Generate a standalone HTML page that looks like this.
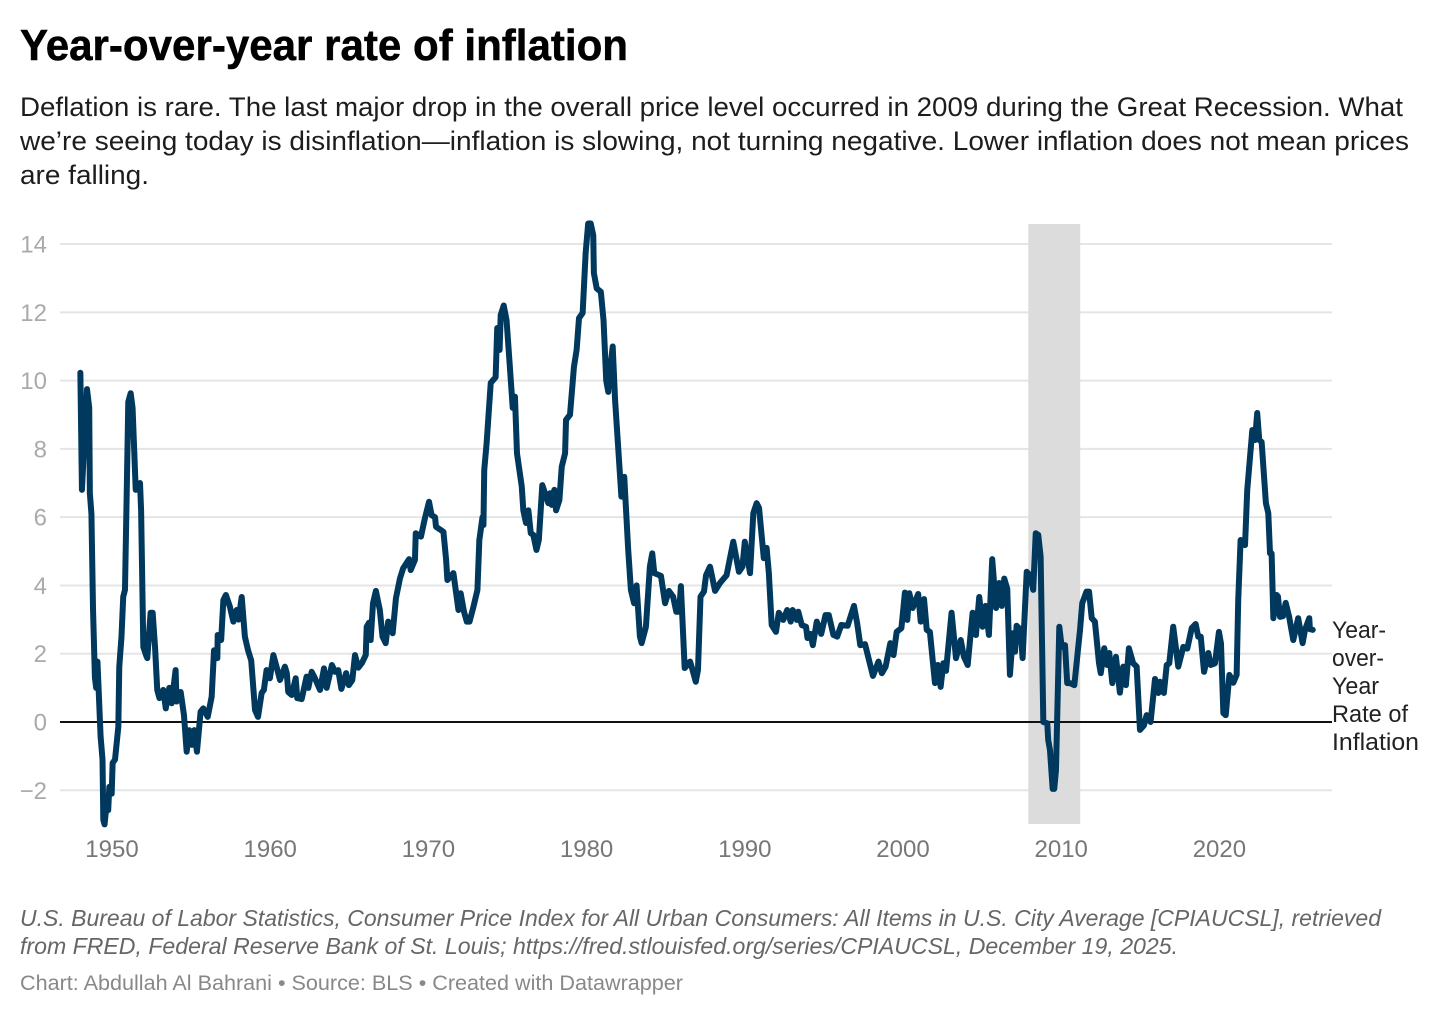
<!DOCTYPE html>
<html lang="en">
<head>
<meta charset="utf-8">
<title>Year-over-year rate of inflation</title>
<style>
html,body{margin:0;padding:0;background:#fff;}
svg{display:block;font-family:"Liberation Sans",Arial,sans-serif;}
</style>
</head>
<body>
<svg id="chart" xmlns="http://www.w3.org/2000/svg" width="1440" height="1016" viewBox="0 0 1440 1016">
  <rect x="0" y="0" width="1440" height="1016" fill="#ffffff"/>
  <text x="20" y="60" font-size="44" font-weight="700" fill="#000000" stroke="#000000" stroke-width="0.5" textLength="608" lengthAdjust="spacingAndGlyphs">Year-over-year rate of inflation</text>
  <text x="20" y="116" font-size="26.5" fill="#1d1d1d" textLength="1383" lengthAdjust="spacingAndGlyphs">Deflation is rare. The last major drop in the overall price level occurred in 2009 during the Great Recession. What</text>
  <text x="20" y="150" font-size="26.5" fill="#1d1d1d" textLength="1389" lengthAdjust="spacingAndGlyphs">we’re seeing today is disinflation—inflation is slowing, not turning negative. Lower inflation does not mean prices</text>
  <text x="20" y="184" font-size="26.5" fill="#1d1d1d" textLength="129" lengthAdjust="spacingAndGlyphs">are falling.</text>
  <g id="grid"></g>
  <g id="yaxis"></g>
  <g id="recession"></g>
  <g id="zero"></g>
  <g id="xaxis"></g>
  <g id="series"></g>
  <g font-size="24" fill="#222222">
    <text x="1332" y="638" textLength="54" lengthAdjust="spacingAndGlyphs">Year-</text>
    <text x="1332" y="666" textLength="52" lengthAdjust="spacingAndGlyphs">over-</text>
    <text x="1332" y="694" textLength="47" lengthAdjust="spacingAndGlyphs">Year</text>
    <text x="1332" y="722" textLength="76" lengthAdjust="spacingAndGlyphs">Rate of</text>
    <text x="1332" y="750" textLength="87" lengthAdjust="spacingAndGlyphs">Inflation</text>
  </g>
  <text x="20" y="926" font-size="23" font-style="italic" fill="#666666" textLength="1361" lengthAdjust="spacingAndGlyphs">U.S. Bureau of Labor Statistics, Consumer Price Index for All Urban Consumers: All Items in U.S. City Average [CPIAUCSL], retrieved</text>
  <text x="20" y="954" font-size="23" font-style="italic" fill="#666666" textLength="1158" lengthAdjust="spacingAndGlyphs">from FRED, Federal Reserve Bank of St. Louis; https://fred.stlouisfed.org/series/CPIAUCSL, December 19, 2025.</text>
  <text x="20" y="990" font-size="21.5" fill="#888888" textLength="663" lengthAdjust="spacingAndGlyphs">Chart: Abdullah Al Bahrani • Source: BLS • Created with Datawrapper</text>
</svg>
<script>
const yTicks = [-2, 2, 4, 6, 8, 10, 12, 14];
const yTickLabels = ["−2", "2", "4", "6", "8", "10", "12", "14"];
const zeroTick = 0;
const xTicks = [1950, 1960, 1970, 1980, 1990, 2000, 2010, 2020];
const recessionSpan = [2007.92, 2011.2];
const dates = [
1948.0,1948.1,1948.42,1948.56,1948.6,1948.7,1948.8,1948.92,1949.0,1949.08,
1949.28,1949.4,1949.45,1949.53,1949.66,1949.76,1949.83,1949.98,1950.04,1950.19,
1950.4,1950.46,1950.6,1950.71,1950.82,1950.93,1951.03,1951.18,1951.3,1951.5,
1951.77,1951.84,1951.98,1952.15,1952.23,1952.44,1952.57,1952.72,1952.86,1953.0,
1953.24,1953.4,1953.62,1953.77,1954.02,1954.08,1954.34,1954.55,1954.72,1954.88,
1955.05,1955.2,1955.37,1955.6,1955.77,1956.05,1956.3,1956.45,1956.66,1956.68,
1956.9,1957.04,1957.2,1957.45,1957.67,1957.88,1958.0,1958.2,1958.4,1958.6,
1958.8,1959.04,1959.23,1959.46,1959.6,1959.77,1959.98,1960.2,1960.4,1960.62,
1960.93,1961.05,1961.14,1961.36,1961.61,1961.71,1961.99,1962.3,1962.41,1962.62,
1962.83,1963.15,1963.4,1963.57,1963.9,1964.1,1964.3,1964.5,1964.8,1964.97,
1965.19,1965.36,1965.57,1965.8,1966.04,1966.1,1966.25,1966.35,1966.5,1966.68,
1966.93,1967.1,1967.3,1967.46,1967.74,1967.95,1968.2,1968.4,1968.78,1968.88,
1969.15,1969.2,1969.53,1969.78,1970.04,1970.2,1970.42,1970.48,1970.95,1971.12,
1971.2,1971.58,1971.9,1972.04,1972.25,1972.43,1972.6,1972.85,1973.1,1973.22,
1973.42,1973.48,1973.53,1973.68,1973.94,1974.25,1974.35,1974.5,1974.57,1974.76,
1974.94,1975.15,1975.33,1975.47,1975.6,1975.9,1976.0,1976.17,1976.32,1976.47,
1976.63,1976.83,1976.98,1977.2,1977.58,1977.69,1977.79,1977.96,1978.07,1978.28,
1978.43,1978.64,1978.7,1978.95,1979.2,1979.37,1979.52,1979.75,1979.94,1980.1,
1980.26,1980.42,1980.46,1980.64,1980.9,1981.07,1981.24,1981.37,1981.43,1981.65,
1981.8,1982.2,1982.38,1982.63,1982.8,1983.0,1983.16,1983.37,1983.48,1983.75,
1984.0,1984.15,1984.28,1984.7,1984.96,1985.2,1985.47,1985.67,1985.85,1985.96,
1986.2,1986.54,1986.65,1986.9,1987.04,1987.2,1987.42,1987.55,1987.8,1988.12,
1988.43,1988.85,1989.27,1989.63,1989.85,1990.0,1990.33,1990.54,1990.75,1990.9,
1991.2,1991.38,1991.52,1991.7,1991.97,1992.15,1992.43,1992.68,1992.9,1993.03,
1993.28,1993.38,1993.6,1993.87,1993.96,1994.15,1994.3,1994.55,1994.83,1995.1,
1995.31,1995.6,1995.84,1996.1,1996.5,1996.9,1997.1,1997.3,1997.6,1997.9,
1998.1,1998.45,1998.66,1998.9,1999.2,1999.4,1999.6,1999.9,2000.12,2000.27,
2000.4,2000.61,2000.96,2001.12,2001.33,2001.5,2001.7,2002.02,2002.19,2002.38,
2002.55,2002.72,2003.07,2003.35,2003.65,2003.85,2004.09,2004.4,2004.61,2004.82,
2005.03,2005.22,2005.43,2005.64,2005.88,2006.08,2006.24,2006.4,2006.59,2006.76,
2006.95,2007.08,2007.18,2007.43,2007.56,2007.82,2008.02,2008.23,2008.39,2008.55,
2008.7,2008.87,2009.12,2009.18,2009.29,2009.46,2009.56,2009.67,2009.88,2010.03,
2010.24,2010.38,2010.55,2010.83,2011.19,2011.33,2011.6,2011.76,2011.93,2012.13,
2012.39,2012.5,2012.72,2012.91,2013.04,2013.23,2013.46,2013.71,2013.92,2014.09,
2014.28,2014.55,2014.77,2014.98,2015.23,2015.4,2015.65,2015.93,2016.14,2016.24,
2016.49,2016.67,2016.83,2017.08,2017.4,2017.72,2017.97,2018.25,2018.5,2018.66,
2018.82,2019.03,2019.3,2019.45,2019.72,2019.97,2020.1,2020.25,2020.4,2020.63,
2020.88,2021.09,2021.19,2021.34,2021.62,2021.76,2022.08,2022.25,2022.39,2022.52,
2022.67,2022.94,2023.09,2023.2,2023.3,2023.41,2023.62,2023.7,2023.83,2024.02,
2024.19,2024.4,2024.67,2024.98,2025.26,2025.41,2025.68,2025.72,2025.9
];
const values = [
10.23,6.8,9.75,9.2,6.7,6.1,3.3,1.3,1.0,1.77,
-0.43,-1.1,-2.87,-3.0,-2.4,-2.58,-1.9,-2.1,-1.2,-1.1,
-0.14,1.62,2.5,3.67,3.87,6.7,9.38,9.63,9.2,6.8,
7.0,6.2,2.2,1.96,1.87,3.2,3.2,2.2,0.94,0.7,
0.94,0.4,1.0,0.55,1.52,0.6,0.88,0.2,-0.87,-0.24,
-0.67,-0.24,-0.87,0.3,0.4,0.15,0.74,2.1,1.87,2.55,
2.4,3.57,3.72,3.38,2.94,3.28,3.0,3.66,2.5,2.1,
1.8,0.35,0.15,0.85,0.94,1.52,1.28,1.96,1.62,1.23,
1.62,1.43,0.88,0.79,1.28,0.7,0.67,1.33,1.0,1.47,
1.28,0.94,1.57,1.0,1.67,1.47,1.52,0.97,1.43,1.08,
1.23,1.96,1.59,1.73,1.96,2.79,2.91,2.4,3.48,3.84,
3.28,2.5,2.31,2.94,2.6,3.63,4.2,4.5,4.77,4.45,
4.75,5.53,5.43,5.97,6.45,6.06,6.0,5.72,5.57,4.75,
4.16,4.36,3.28,3.77,3.23,2.94,2.94,3.38,3.87,5.33,
6.0,5.77,7.38,8.17,9.93,10.1,11.54,10.9,11.92,12.2,
11.77,10.4,9.2,9.53,7.87,6.9,6.2,5.83,6.2,5.53,
5.48,5.04,5.33,6.94,6.41,6.7,6.36,6.8,6.2,6.5,
7.48,7.87,8.85,9.0,10.4,10.9,11.83,11.98,13.74,14.6,
14.6,14.26,13.15,12.7,12.6,11.77,10.0,9.67,10.1,11.0,
9.43,6.6,7.18,5.04,3.87,3.48,4.0,2.5,2.31,2.79,
4.55,4.94,4.36,4.28,3.48,3.84,3.67,3.23,3.23,3.98,
1.58,1.77,1.6,1.18,1.52,3.67,3.82,4.3,4.55,3.84,
4.07,4.3,5.28,4.4,4.55,5.28,4.36,6.12,6.41,6.27,
4.8,5.1,4.36,2.84,2.64,3.2,2.99,3.28,2.94,3.28,
2.99,3.23,2.84,2.79,2.46,2.58,2.25,2.94,2.58,3.13,
3.13,2.55,2.5,2.84,2.82,3.4,2.9,2.25,2.28,1.72,
1.35,1.77,1.43,1.62,2.31,1.96,2.64,2.75,3.79,2.99,
3.77,3.34,3.75,2.94,3.6,2.7,2.64,1.14,1.67,1.03,
1.72,1.5,3.2,1.87,2.4,1.91,1.67,3.2,2.55,3.66,
2.79,3.4,2.55,4.77,3.34,4.07,3.4,4.2,3.9,1.38,
2.6,2.06,2.82,2.7,1.87,4.4,4.3,3.87,5.53,5.48,
4.84,0.0,-0.04,-0.53,-0.82,-1.96,-1.96,-1.41,2.79,2.2,
2.25,1.14,1.14,1.08,2.7,3.48,3.82,3.82,3.04,2.94,
1.72,1.43,2.16,1.67,2.02,1.14,1.91,0.86,1.62,1.08,
2.16,1.72,1.62,-0.23,-0.1,0.2,0.0,1.26,0.85,1.18,
0.85,1.67,1.72,2.79,1.62,2.2,2.15,2.75,2.87,2.5,
2.5,1.47,2.02,1.67,1.72,2.64,2.3,0.26,0.2,1.38,
1.15,1.38,3.57,5.33,5.18,6.8,8.55,8.26,9.05,8.26,
8.2,6.41,6.12,4.94,4.94,3.04,3.72,3.68,3.08,3.1,
3.49,3.1,2.4,3.04,2.31,2.7,3.04,2.72,2.7
];

const NS = 'http://www.w3.org/2000/svg';
function xScale(year) { return 112 + (year - 1950) * 15.82; }
function yScale(v) { return 722 - v * 34.14; }
function make(tag, attrs, parentId) {
  const el = document.createElementNS(NS, tag);
  for (const k in attrs) el.setAttribute(k, attrs[k]);
  document.getElementById(parentId).appendChild(el);
  return el;
}
yTicks.forEach(function (t, i) {
  const line = make('line', {x1: 60, x2: 1332, y1: yScale(t), y2: yScale(t), stroke: '#e5e5e5', 'stroke-width': 2}, 'grid');
  
  
  const label = make('text', {x: 47, y: yScale(t) + 8.5, 'text-anchor': 'end', 'font-size': 24, fill: '#aaaaaa'}, 'yaxis');
  
  
  label.textContent = yTickLabels[i];
});
const zeroLabel = make('text', {x: 47, y: yScale(zeroTick) + 8.5, 'text-anchor': 'end', 'font-size': 24, fill: '#aaaaaa'}, 'yaxis');


zeroLabel.textContent = String(zeroTick);
const band = make('rect', {x: xScale(recessionSpan[0]), y: 224, width: xScale(recessionSpan[1]) - xScale(recessionSpan[0]), height: 600, fill: '#dcdcdc'}, 'recession');


const zeroLine = make('line', {x1: 60, x2: 1332, y1: yScale(zeroTick), y2: yScale(zeroTick), stroke: '#111111', 'stroke-width': 2}, 'zero');


xTicks.forEach(function (t) {
  const label = make('text', {x: xScale(t), y: 857, 'text-anchor': 'middle', 'font-size': 24, fill: '#777777'}, 'xaxis');
  
  
  label.textContent = String(t);
});
const pts = dates.map(function (d, i) { return xScale(d).toFixed(2) + ',' + yScale(values[i]).toFixed(2); }).join(' ');
const seriesLine = make('polyline', {points: pts, fill: 'none', stroke: '#00395d', 'stroke-width': 6, 'stroke-linejoin': 'round', 'stroke-linecap': 'round'}, 'series');


</script>
</body>
</html>
